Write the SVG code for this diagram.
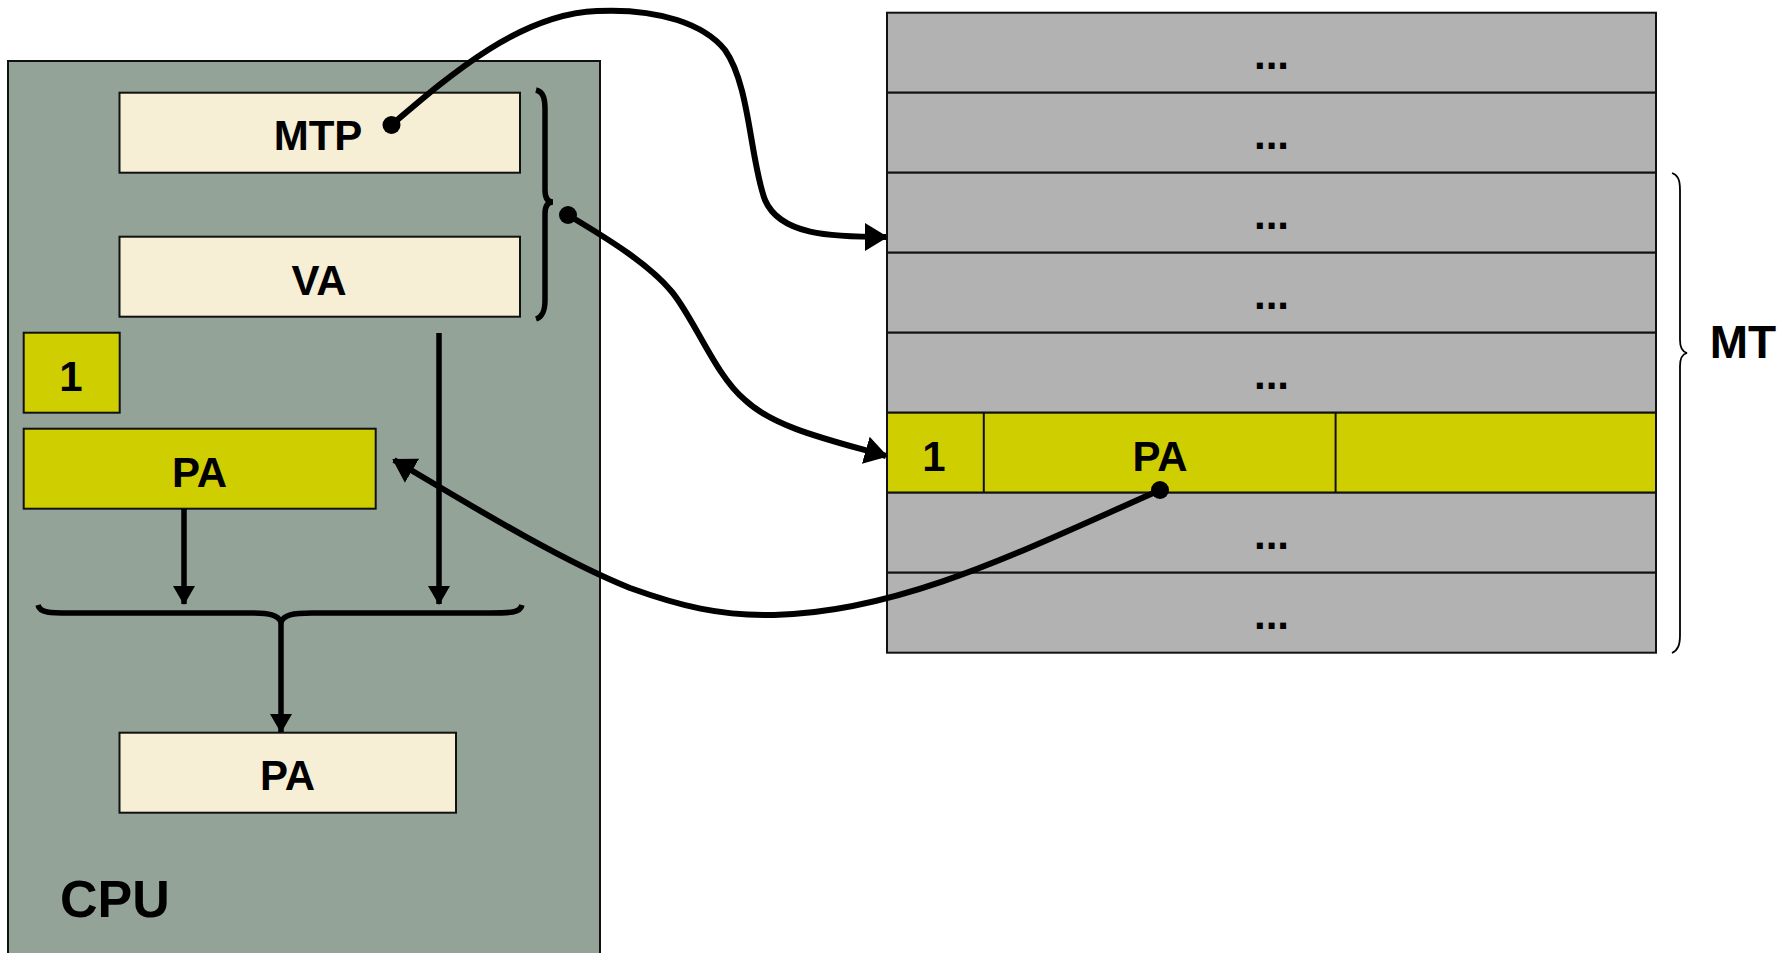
<svg xmlns="http://www.w3.org/2000/svg" width="1785" height="953" viewBox="0 0 1785 953">
  <style>
    .lbl { font-family: "Liberation Sans", Arial, sans-serif; font-weight: bold; fill: #000; text-anchor: middle; }
    .cream { fill: #f7efd5; stroke: #111; stroke-width: 2; }
    .yel { fill: #cece00; stroke: #111; stroke-width: 2; }
    .row { fill: #b2b2b2; stroke: #111; stroke-width: 2; }
    .wire { fill: none; stroke: #000; stroke-width: 6; }
    .bus { fill: none; stroke: #000; stroke-width: 5.5; }
    .brace { fill: none; stroke: #000; }
  </style>
  <defs>
    <marker id="arrowBig" markerUnits="userSpaceOnUse" markerWidth="26" markerHeight="30" viewBox="0 0 26 30" refX="21" refY="15" orient="auto">
      <path d="M0,1 L23,15 L0,29 z" fill="#000"/>
    </marker>
    <marker id="arrowSmall" markerUnits="userSpaceOnUse" markerWidth="22" markerHeight="24" viewBox="0 0 22 24" refX="18" refY="12" orient="auto">
      <path d="M0,1 L19,12 L0,23 z" fill="#000"/>
    </marker>
  </defs>

  <rect width="1785" height="953" fill="#fff"/>

  <!-- CPU -->
  <g id="cpu">
    <rect x="8" y="61" width="592" height="900" fill="#93a398" stroke="#111" stroke-width="2"/>
    <text class="lbl" x="60" y="917" font-size="52" style="text-anchor:start">CPU</text>
  </g>

  <g id="mtp">
    <rect class="cream" x="119.5" y="92.7" width="400.5" height="80"/>
    <text class="lbl" x="318" y="150" font-size="42">MTP</text>
  </g>

  <g id="va">
    <rect class="cream" x="119.5" y="236.7" width="400.5" height="80"/>
    <text class="lbl" x="319" y="295" font-size="42">VA</text>
  </g>

  <g id="valid-bit">
    <rect class="yel" x="23.7" y="332.7" width="96" height="80"/>
    <text class="lbl" x="71" y="391" font-size="42">1</text>
  </g>

  <g id="pa-reg">
    <rect class="yel" x="23.7" y="428.7" width="352" height="80"/>
    <text class="lbl" x="199.5" y="487" font-size="42">PA</text>
  </g>

  <g id="pa-out">
    <rect class="cream" x="119.5" y="732.7" width="336.5" height="80"/>
    <text class="lbl" x="287.5" y="790" font-size="42">PA</text>
  </g>

  <!-- memory table MT -->
  <g id="mt">
    <rect class="row" x="887" y="12.7" width="769" height="80"/>
    <rect class="row" x="887" y="92.7" width="769" height="80"/>
    <rect class="row" x="887" y="172.7" width="769" height="80"/>
    <rect class="row" x="887" y="252.7" width="769" height="80"/>
    <rect class="row" x="887" y="332.7" width="769" height="80"/>
    <rect class="yel" x="887" y="412.7" width="769" height="80"/>
    <line x1="983.8" y1="412.7" x2="983.8" y2="492.7" stroke="#111" stroke-width="2"/>
    <line x1="1335.6" y1="412.7" x2="1335.6" y2="492.7" stroke="#111" stroke-width="2"/>
    <rect class="row" x="887" y="492.7" width="769" height="80"/>
    <rect class="row" x="887" y="572.7" width="769" height="80"/>
    <g class="lbl" font-size="42">
      <text x="1271.5" y="69">...</text>
      <text x="1271.5" y="149">...</text>
      <text x="1271.5" y="229">...</text>
      <text x="1271.5" y="309">...</text>
      <text x="1271.5" y="389">...</text>
      <text x="1271.5" y="549">...</text>
      <text x="1271.5" y="629">...</text>
    </g>
    <text class="lbl" x="934" y="471" font-size="42">1</text>
    <text class="lbl" x="1160" y="471" font-size="42">PA</text>
  </g>

  <g id="mt-brace">
    <path class="brace" stroke-width="1.8" d="M1672,173 C1678,175 1680,180 1680,190 L1680,340 C1680,348 1683,352 1687,353 C1683,354 1680,358 1680,366 L1680,635 C1680,645 1678,650 1672,653"/>
    <text class="lbl" x="1743" y="358" font-size="46">MT</text>
  </g>

  <!-- connectors -->
  <g id="connectors">
    <!-- brace grouping MTP and VA -->
    <path class="brace" stroke-width="5.5" d="M536,90 C544,92 545,100 545,110 L545,190 C545,198 548,202 553,202 C548,202 545,206 545,214 L545,300 C545,312 542,317 536,319"/>
    <!-- MTP points to table start -->
    <path class="wire" marker-end="url(#arrowBig)" d="M391.5,125 C450,75 520,14 597,11 C660,8 705,25 725,50 C750,85 750,160 765,200 C780,235 830,237 886,237"/>
    <circle cx="391.5" cy="125" r="9" fill="#000"/>
    <!-- MTP+VA selects entry -->
    <path class="wire" marker-end="url(#arrowBig)" d="M568,215 C610,240 650,265 672,292 C695,320 715,375 745,400 C775,428 830,440 886,456"/>
    <circle cx="568" cy="215" r="9" fill="#000"/>
    <!-- entry PA loaded into CPU -->
    <path class="wire" marker-end="url(#arrowBig)" d="M1160,490 C1020,552 900,612 774,615 C720,616 680,606 630,588 C560,560 470,505 394,460"/>
    <circle cx="1160" cy="490" r="9" fill="#000"/>

    <!-- offset and page number merge -->
    <line class="bus" x1="439" y1="333" x2="439" y2="604" marker-end="url(#arrowSmall)"/>
    <line class="bus" x1="184" y1="509" x2="184" y2="604" marker-end="url(#arrowSmall)"/>
    <path class="brace" stroke-width="5.5" d="M38,605 C40,613 50,613 70,613 L250,613 C270,613 278,615 281,622 C284,615 292,613 312,613 L490,613 C510,613 520,613 522,605"/>
    <line class="bus" x1="281" y1="622" x2="281" y2="732" marker-end="url(#arrowSmall)"/>
  </g>
</svg>
